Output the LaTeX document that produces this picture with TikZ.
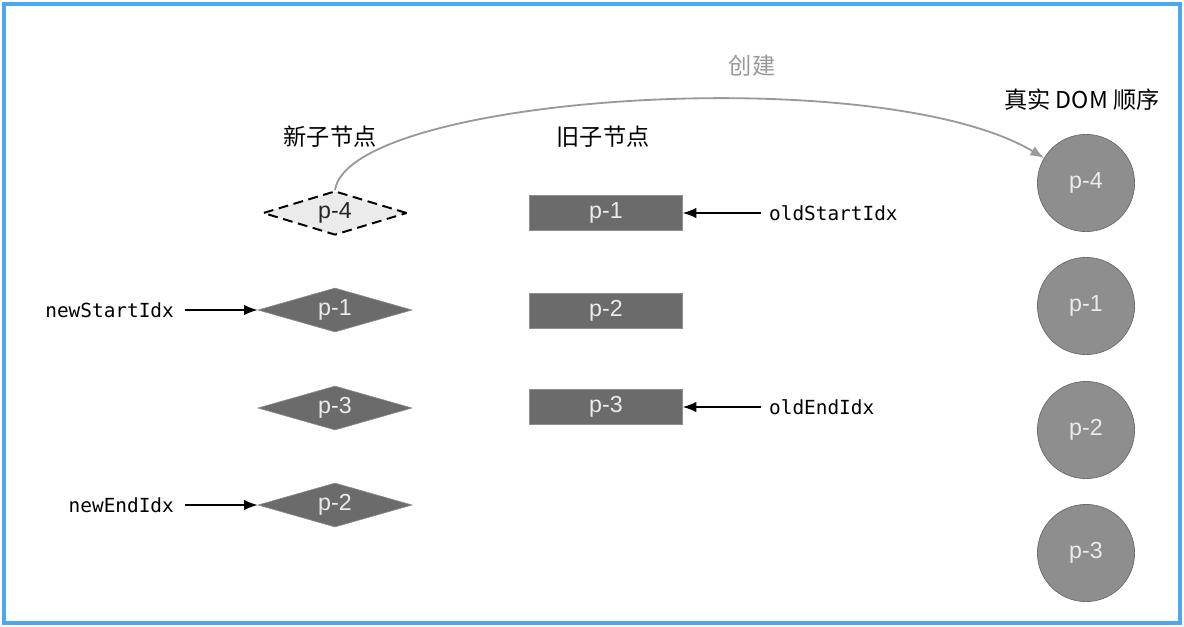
\documentclass[tikz,border=0pt]{standalone}
\usepackage{fontspec}
\setsansfont{Liberation Sans}
\setmonofont{DejaVu Sans Mono}
\newfontfamily\cjk{Noto Sans CJK SC}
\usetikzlibrary{shapes.geometric,arrows.meta}
\definecolor{frameblue}{HTML}{4DA6F0}
\definecolor{boxgray}{HTML}{6B6B6B}
\definecolor{dotgray}{HTML}{8E8E8E}

\begin{document}
\begin{tikzpicture}[x=0.025cm,y=-0.025cm,line width=0.45pt,
    newnode/.style={diamond,aspect=3.5,fill=boxgray,draw=boxgray!80,inner sep=0pt,
      minimum width=3.85cm,minimum height=1.1cm,text=white!92!black,
      font=\sffamily\fontsize{16.5}{18}\selectfont},
    oldnode/.style={rectangle,fill=boxgray,draw=boxgray!75,inner sep=0pt,
      minimum width=3.82cm,minimum height=0.87cm,text=white!92!black,
      font=\sffamily\fontsize{16.5}{18}\selectfont},
    domnode/.style={circle,fill=dotgray,draw=black!60,inner sep=0pt,
      minimum size=2.43cm,text=white!92!black,
      font=\sffamily\fontsize{16.5}{18}\selectfont},
    idxlabel/.style={font=\ttfamily\fontsize{13.8}{16}\selectfont,inner sep=2pt},
    head/.style={font=\cjk\fontsize{16.5}{18}\selectfont},
    ptr/.style={-{Latex[length=3.4mm,width=2.6mm]},line width=1pt}]
  \useasboundingbox (0,0) rectangle (1184,626);
  \draw[frameblue,line width=2.2pt] (4,4) rectangle (1180,623);

  \node[head] (newhead) at (330,137) {新子节点};
  \node[head] (oldhead) at (603,137) {旧子节点};
  \node[head] (domhead) at (1082,100) {真实 DOM 顺序};

  \node[newnode,fill=black!8,draw=black,dash pattern=on 7pt off 4pt,
    line width=1.4pt,text=black!85,minimum width=3.6cm] (n4) at (335,213) {p-4};
  \node[newnode] (n1) at (335,310) {p-1};
  \node[newnode] (n3) at (335,408) {p-3};
  \node[newnode] (n2) at (335,505) {p-2};

  \node[oldnode] (o1) at (606,213) {p-1};
  \node[oldnode] (o2) at (606,311) {p-2};
  \node[oldnode] (o3) at (606,407) {p-3};

  \node[domnode] (d4) at (1086,183) {p-4};
  \node[domnode] (d1) at (1086,306) {p-1};
  \node[domnode] (d2) at (1086,430) {p-2};
  \node[domnode] (d3) at (1086,553) {p-3};

  \node[idxlabel,anchor=east] (newstart) at (177,310) {newStartIdx};
  \node[idxlabel,anchor=east] (newend) at (177,505) {newEndIdx};
  \node[idxlabel,anchor=west] (oldstart) at (766,213) {oldStartIdx};
  \node[idxlabel,anchor=west] (oldend) at (766,407) {oldEndIdx};

  \draw[ptr] (newstart.east) ++(8,0) -- (n1.west);
  \draw[ptr] (newend.east) ++(8,0) -- (n2.west);
  \draw[ptr] (oldstart.west) ++(-5,0) -- (o1.east);
  \draw[ptr] (oldend.west) ++(-5,0) -- (o3.east);

  \draw[black!40,line width=1.3pt,-{Latex[length=3.4mm,width=2.6mm]}]
    (n4.north) .. controls (350,95) and (880,60) .. (d4);
  \node[text=black!40,font=\cjk\fontsize{16.5}{18}\selectfont] (create) at (752,66) {创建};
\end{tikzpicture}
\end{document}
